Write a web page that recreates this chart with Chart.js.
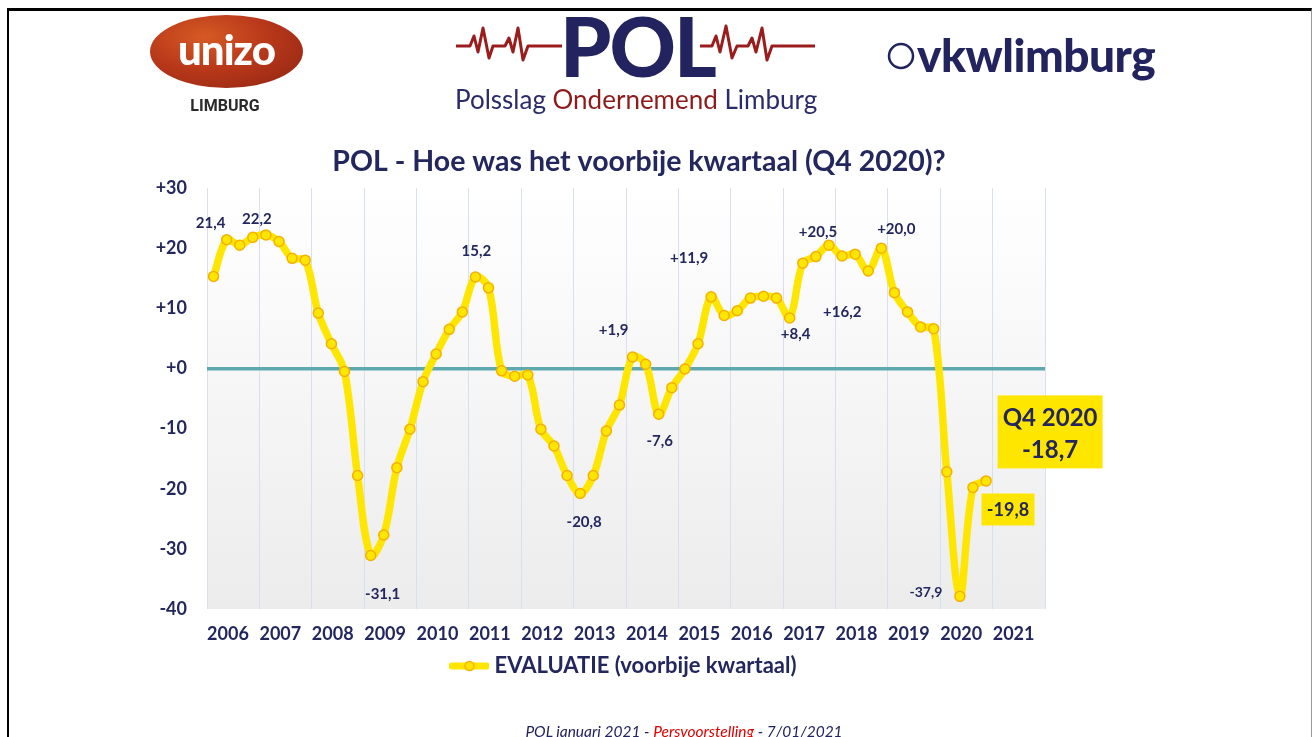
<!DOCTYPE html>
<html><head><meta charset="utf-8">
<script src="https://cdn.jsdelivr.net/npm/chart.js@4.4.1/dist/chart.umd.min.js"></script>
<style>
html,body{margin:0;padding:0;background:#fff;width:1312px;height:737px;overflow:hidden;font-family:Lato,"Open Sans",sans-serif;}
#frame{position:absolute;left:7px;top:8px;width:1305px;height:760px;border-top:3px solid #000;border-left:2px solid #000;border-right:1px solid #999;box-sizing:border-box;}
#wrap{position:absolute;left:0;top:0;width:1312px;height:737px;}
.abs{position:absolute;white-space:nowrap;}
#unizo{left:150px;top:15px;width:153px;height:73px;border-radius:50%;background:radial-gradient(ellipse at 35% 30%,#d65a24 0%,#b8381a 45%,#8f2412 100%);}
#unizoTxt{left:150px;top:15px;width:153px;height:73px;line-height:68px;text-align:center;color:#fff;font-weight:900;font-size:42px;letter-spacing:-1px;}
#limburg{left:188px;top:96px;width:74px;text-align:center;font-size:16px;font-weight:700;color:#2a2a2a;font-family:"Liberation Sans Narrow","Roboto",sans-serif;}
#polBig{left:560px;top:4px;font-size:82px;font-weight:900;color:#23235f;letter-spacing:-2px;line-height:82px;}
#polSub{left:455px;top:84px;font-size:26px;color:#2b2b6b;line-height:30px;}
#polSub span{color:#8e1b1b;}
#vkw{left:917px;top:28px;font-size:46px;font-weight:900;color:#23235f;line-height:54px;letter-spacing:-0.5px;}
#footer{left:0;width:1368px;top:722px;text-align:center;font-style:italic;font-size:15.5px;color:#23235f;}
#footer span{color:#e00000;}
</style></head><body>
<div id="frame"></div>
<div id="wrap"><canvas id="c" width="1312" height="737"></canvas></div>
<div class="abs" id="unizo"></div>
<div class="abs" id="unizoTxt">unizo</div>
<div class="abs" id="limburg">LIMBURG</div>
<svg class="abs" style="left:0;top:0" width="1312" height="120">
  <polyline fill="none" stroke="#9b1c1c" stroke-width="3" stroke-linejoin="round" points="456,46 470,46 474,36 478,52 483,28 489,58 493,46 505,46 509,38 513,52 518,28 523,60 528,46 562,46"/>
  <polyline fill="none" stroke="#9b1c1c" stroke-width="3" stroke-linejoin="round" points="700,46 712,46 716,36 720,52 726,26 732,58 737,46 748,46 752,38 756,52 762,28 767,60 772,46 815,46"/>
  <circle cx="901" cy="56" r="12" fill="none" stroke="#23235f" stroke-width="2.5"/>
</svg>
<div class="abs" id="polBig">POL</div>
<div class="abs" id="polSub">Polsslag <span>Ondernemend</span> Limburg</div>
<div class="abs" id="vkw">vkwlimburg</div>
<div class="abs" id="footer">POL januari 2021 - <span>Persvoorstelling</span> - 7/01/2021</div>
<script>
// ---- data ----
const years = ['2006','2007','2008','2009','2010','2011','2012','2013','2014','2015','2016','2017','2018','2019','2020','2021'];
const seriesName = 'EVALUATIE (voorbije kwartaal)';
const evaluatie = [
  15.3, 21.4, 20.5, 21.8,
  22.2, 21.1, 18.3, 18.0,
  9.2, 4.1, -0.5, -17.8,
  -31.1, -27.7, -16.5, -10.1,
  -2.2, 2.4, 6.5, 9.4,
  15.2, 13.4, -0.4, -1.3,
  -1.1, -10.1, -12.9, -17.8,
  -20.8, -17.8, -10.4, -6.1,
  1.9, 0.7, -7.6, -3.2,
  -0.1, 4.1, 11.9, 8.8,
  9.6, 11.7, 12.0, 11.7,
  8.4, 17.5, 18.6, 20.5,
  18.7, 19.0, 16.2, 20.0,
  12.6, 9.4, 6.9, 6.6,
  -17.2, -37.9, -19.8, -18.7
];
const yTicks = [-40,-30,-20,-10,0,10,20,30];
const labelledPoints = [1,4,20,32,34,38,44,47,50,51,12,28,57,58,59];
const plusLabels = [32,38,44,47,50,51];
const title = 'POL - Hoe was het voorbije kwartaal (Q4 2020)?';

// ---- styles ----
const NAVY = '#23275e';
const YELLOW = '#ffe600';
const labelOffsets = {1:[-16,-17],4:[-9,-16],20:[1,-26],32:[-19,-27],34:[1,27],38:[-22,-39],44:[6,16],47:[-11,-13],50:[-26,41],51:[15,-19],12:[12,39],28:[4,29],57:[-34,-4],58:[35,22],59:[64,-49]};

function fmt(v, plus){
  return (plus && v >= 0 ? '+' : '') + v.toFixed(1).replace('.', ',');
}

const pts = evaluatie.map((v,i)=>({x:(i+0.5)/4, y:v}));

const legendMarker = document.createElement('canvas');
legendMarker.width = 40; legendMarker.height = 14;
(function(){
  const g = legendMarker.getContext('2d');
  g.strokeStyle = YELLOW; g.lineWidth = 7; g.lineCap='round';
  g.beginPath(); g.moveTo(3,7); g.lineTo(37,7); g.stroke();
  g.beginPath(); g.arc(20,7,4.5,0,Math.PI*2); g.fillStyle=YELLOW; g.fill();
  g.lineWidth=1.5; g.strokeStyle='#f5b000'; g.stroke();
})();

const bgPlugin = {
  id:'bg',
  beforeDraw(chart){
    const {ctx, chartArea:a} = chart;
    const g = ctx.createLinearGradient(0,a.top,0,a.bottom);
    g.addColorStop(0,'#ffffff'); g.addColorStop(1,'#ececec');
    ctx.save(); ctx.fillStyle=g; ctx.fillRect(a.left,a.top,a.right-a.left,a.bottom-a.top); ctx.restore();
  }
};

const labelPlugin = {
  id:'pointLabels',
  afterDatasetsDraw(chart){
    const meta = chart.getDatasetMeta(0);
    const ctx = chart.ctx;
    ctx.save();
    ctx.textAlign='center'; ctx.textBaseline='middle';
    labelledPoints.forEach(i=>{
      const el = meta.data[i];
      const [dx,dy] = labelOffsets[i];
      const x = el.x+dx, y = el.y+dy;
      const txt = fmt(evaluatie[i], plusLabels.includes(i));
      if (i === evaluatie.length-1){
        ctx.fillStyle=YELLOW; ctx.fillRect(x-52.5,y-36.5,105,73);
        ctx.fillStyle=NAVY; ctx.font='700 24px Lato';
        ctx.fillText('Q4 ' + years[Math.floor(i/4)], x, y-14);
        ctx.fillText(txt, x, y+18);
      } else if (i === evaluatie.length-2){
        ctx.fillStyle=YELLOW; ctx.fillRect(x-26.5,y-16,53,32);
        ctx.fillStyle=NAVY; ctx.font='700 18px Lato';
        ctx.fillText(txt, x, y+1);
      } else {
        ctx.fillStyle=NAVY; ctx.font = (i===57?'700 14px Lato':'700 15px Lato');
        ctx.fillText(txt, x, y);
      }
    });
    ctx.restore();
  }
};

new Chart(document.getElementById('c'), {
  type:'line',
  data:{datasets:[{
    label: seriesName,
    data: pts,
    borderColor: YELLOW,
    backgroundColor: YELLOW,
    borderWidth: 7.5,
    tension: 0.35,
    pointRadius: 5,
    pointBackgroundColor: YELLOW,
    pointBorderColor: '#f5b000',
    pointBorderWidth: 1.5,
    clip: false
  }]},
  options:{
    responsive:false, animation:false, devicePixelRatio:1,
    layout:{padding:{left:140,right:174,top:145,bottom:50}},
    plugins:{
      title:{display:true,text:title,color:NAVY,font:{family:'Lato',size:28.5,weight:'700',lineHeight:1.2},padding:{top:0,bottom:8.8}},
      legend:{position:'bottom',fullSize:false,labels:{usePointStyle:true,pointStyle:legendMarker,pointStyleWidth:28,color:NAVY,font:{family:'Lato',size:22,weight:'700'},padding:10}},
      tooltip:{enabled:false}
    },
    scales:{
      x:{type:'linear',min:0,max:16,
        afterBuildTicks(s){ const t=[]; for(let i=0;i<=years.length;i++){ t.push({value:i}); if(i<years.length) t.push({value:i+0.4}); } s.ticks=t; },
        afterFit(s){ s.height=36; },
        border:{display:false},
        grid:{drawTicks:false,color:(c)=>Number.isInteger(c.tick && c.tick.value)?'#d8e0ec':'rgba(0,0,0,0)',lineWidth:1},
        ticks:{autoSkip:false,maxRotation:0,padding:14,color:NAVY,font:{family:'Lato',size:18,weight:'700'},
          callback:(v)=>Number.isInteger(v)?'':years[Math.floor(v)]}
      },
      y:{min:-40,max:30,
        afterBuildTicks(s){ s.ticks = yTicks.map(v=>({value:v})); },
        afterFit(s){ s.width=67; },
        border:{display:false},
        grid:{drawTicks:false,color:(c)=>c.tick && c.tick.value===0?'#5ea9b0':'rgba(0,0,0,0)',lineWidth:(c)=>c.tick && c.tick.value===0?3.5:1},
        ticks:{padding:20,color:NAVY,font:{family:'Lato',size:18,weight:'700'},callback:(v)=>(v>=0?'+':'')+v}
      },
      y2:{position:'right',min:-40,max:30,display:true,
        afterFit(s){ s.width=93; },
        border:{display:false},grid:{display:false},ticks:{display:false}}
    }
  },
  plugins:[bgPlugin,labelPlugin]
});
</script>
</body></html>
